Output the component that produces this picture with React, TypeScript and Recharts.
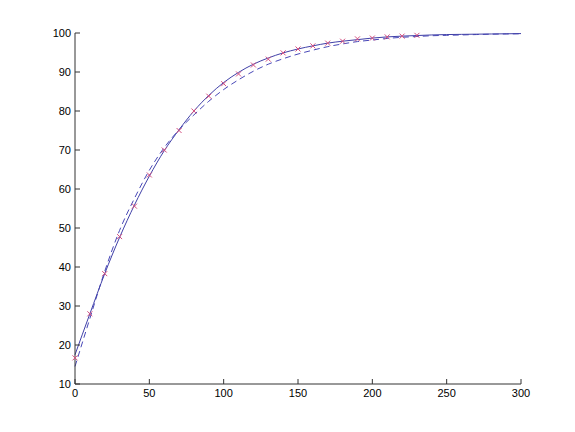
import React from 'react';
import { LineChart, Line, XAxis, YAxis } from 'recharts';

// x positions (sampled every 10)
const xValues = [
  0, 10, 20, 30, 40, 50, 60, 70, 80, 90, 100, 110, 120, 130, 140, 150,
  160, 170, 180, 190, 200, 210, 220, 230, 240, 250, 260, 270, 280, 290, 300
];

// solid fitted curve
const solidCurve = [
  17.5, 28, 38.3, 47.6, 55.9, 63.3, 69.8, 75.2, 80, 84, 87.3, 89.9, 92, 93.6,
  94.9, 95.9, 96.7, 97.4, 97.9, 98.3, 98.7, 99, 99.2, 99.35, 99.5, 99.6, 99.65,
  99.7, 99.75, 99.8, 99.85
];

// dashed fitted curve
const dashedCurve = [
  14.5, 26.8, 38.9, 49.4, 57.6, 64.8, 70.6, 75.2, 79, 82.5, 85.5, 88, 90.2, 92,
  93.4, 94.6, 95.6, 96.5, 97.2, 97.8, 98.2, 98.6, 98.9, 99.1, 99.3, 99.4, 99.5,
  99.6, 99.7, 99.75, 99.8
];

// measured samples (red x markers), x = 0..230
const measured = [
  16.7, 28, 38.3, 47.8, 55.6, 63.6, 70, 75, 80, 83.8, 87, 89.5, 91.8, 93.3,
  94.9, 95.9, 96.7, 97.4, 97.9, 98.5, 98.7, 99, 99.2, 99.4
];

const xTicks = [0, 50, 100, 150, 200, 250, 300];
const yTicks = [10, 20, 30, 40, 50, 60, 70, 80, 90, 100];

const data = xValues.map((x, i) => ({
  x,
  solid: solidCurve[i],
  dashed: dashedCurve[i],
  measured: i < measured.length ? measured[i] : null
}));

const FONT = 'Arial, "Liberation Sans", sans-serif';

const CrossDot = (props: any) => {
  const { cx, cy, value } = props;
  if (value == null || cx == null || cy == null) return null;
  const s = 2.5;
  return (
    <g>
      <line x1={cx - s} y1={cy - s} x2={cx + s} y2={cy + s} stroke="#d45080" strokeWidth={1} />
      <line x1={cx - s} y1={cy + s} x2={cx + s} y2={cy - s} stroke="#d45080" strokeWidth={1} />
    </g>
  );
};

// MATLAB-style ticks: mark points into the plot, label sits outside
const XTick = (props: any) => {
  const { x, y, payload } = props;
  return (
    <g>
      <line x1={x} y1={y} x2={x} y2={y - 5} stroke="#333" />
      <text x={x} y={y + 5} dy="0.75em" textAnchor="middle" fontSize={11} fontFamily={FONT} fill="#000">
        {payload.value}
      </text>
    </g>
  );
};

const YTick = (props: any) => {
  const { x, y, payload } = props;
  return (
    <g>
      <line x1={x} y1={y} x2={x + 5} y2={y} stroke="#333" />
      <text x={x - 4} y={y} dy="0.35em" textAnchor="end" fontSize={11} fontFamily={FONT} fill="#000">
        {payload.value}
      </text>
    </g>
  );
};

export default function App() {
  return (
    <div style={{ width: 567, height: 424, background: '#fff' }}>
      <LineChart
        width={567}
        height={424}
        data={data}
        margin={{ top: 25, right: 54, left: 27, bottom: 18 }}
      >
        <XAxis
          dataKey="x"
          type="number"
          domain={[0, 300]}
          ticks={xTicks}
          height={30}
          tickSize={0}
          tickMargin={0}
          tickLine={false}
          stroke="#333"
          tick={<XTick />}
          interval={0}
        />
        <YAxis
          type="number"
          domain={[10, 100]}
          ticks={yTicks}
          width={40}
          tickSize={0}
          tickMargin={0}
          tickLine={false}
          stroke="#333"
          tick={<YTick />}
          interval={0}
        />
        <Line
          dataKey="dashed"
          type="monotone"
          stroke="#4848b8"
          strokeWidth={1}
          strokeDasharray="6 4"
          dot={false}
          isAnimationActive={false}
        />
        <Line
          dataKey="solid"
          type="monotone"
          stroke="#4040a8"
          strokeWidth={1}
          dot={false}
          isAnimationActive={false}
        />
        <Line
          dataKey="measured"
          stroke="none"
          dot={<CrossDot />}
          activeDot={false}
          isAnimationActive={false}
        />
      </LineChart>
    </div>
  );
}
